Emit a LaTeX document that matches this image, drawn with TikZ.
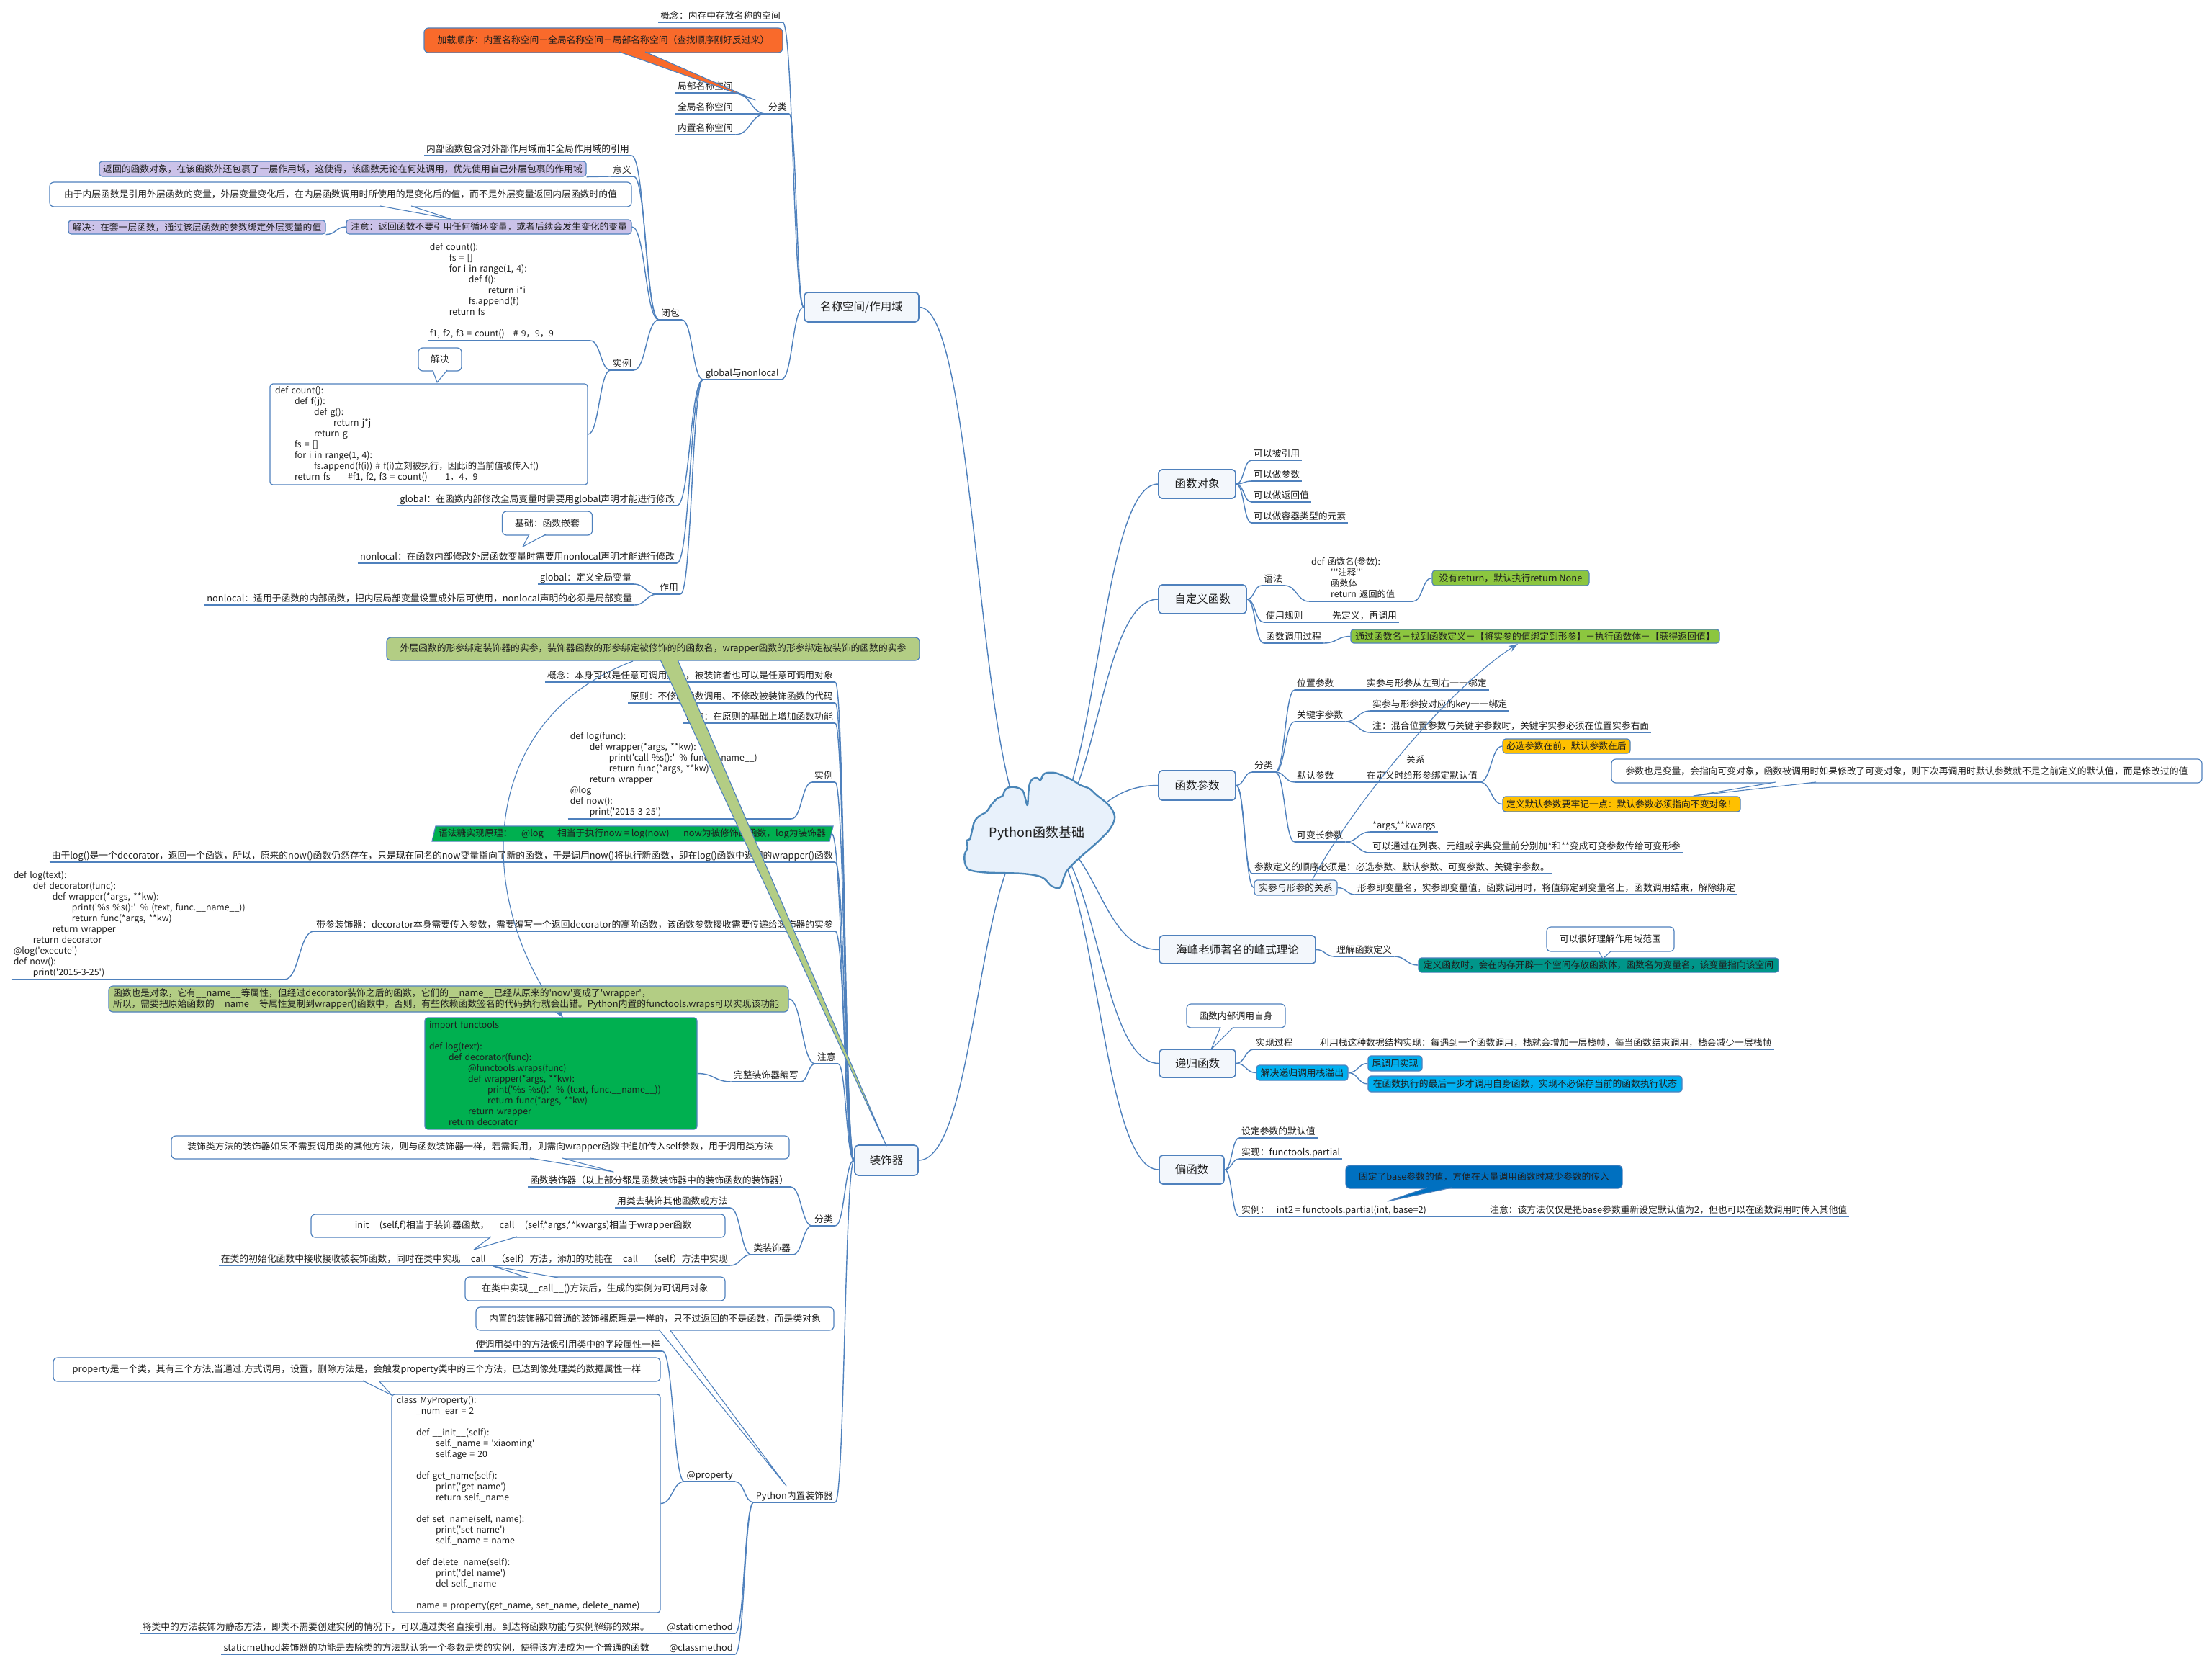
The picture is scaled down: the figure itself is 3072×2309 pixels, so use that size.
\documentclass[tikz,border=0pt]{standalone}
\usepackage{fontspec}
\setmainfont{Noto Sans CJK SC}
\newfontfamily\cjkf{Noto Sans CJK SC}
\usetikzlibrary{calc,arrows.meta}
\definecolor{lnc}{HTML}{4F81BD}
\definecolor{cldl}{HTML}{4A86B8}
\definecolor{txt}{HTML}{1E1E1E}
\definecolor{tpf}{HTML}{F3F7FC}
\definecolor{cldf}{HTML}{E8F1FB}
\definecolor{orng}{HTML}{F96A2B}
\definecolor{lav}{HTML}{CBC2E9}
\definecolor{olv}{HTML}{B3CD84}
\definecolor{grn}{HTML}{00B050}
\definecolor{lgrn}{HTML}{8CC63F}
\definecolor{ylw}{HTML}{FFC000}
\definecolor{tealc}{HTML}{00968A}
\definecolor{cyn}{HTML}{00B0F0}
\definecolor{dblu}{HTML}{0070C0}
\newcommand\fLeaf{\cjkf\fontsize{12.8}{15}\selectfont}
\newcommand\fCode{\cjkf\fontsize{12.3}{15}\selectfont}
\newcommand\fTop{\cjkf\fontsize{15.5}{18}\selectfont}
\newcommand\fCld{\cjkf\fontsize{18}{22}\selectfont}
\newcommand\Ind{\hspace*{27pt}}
\tikzset{
  ln/.style={draw=lnc,line width=1.4pt},
  lf/.style={font=\fLeaf,text=txt,inner xsep=3pt,inner ysep=1pt,text height=10pt,text depth=3pt},
  cd/.style={font=\fCode,text=txt,inner xsep=3pt,inner ysep=1pt,align=left,execute at end node=\strut},
  tp/.style={draw=lnc,line width=1.6pt,fill=tpf,rounded corners=5pt,font=\fTop,text=txt,inner sep=0pt},
  bx/.style={draw=lnc,line width=1.2pt,rounded corners=4pt,font=\fLeaf,text=txt,inner sep=1pt},
  rel/.style={draw=lnc,line width=1.1pt,-{Stealth[length=13pt,width=9pt]}},
}
\newcommand\leafL[4]{\node[lf,anchor=south east] (#1) at (#2,#3) {#4};\draw[ln] (#1.south west)--(#1.south east);}
\newcommand\leafR[4]{\node[lf,anchor=south west] (#1) at (#2,#3) {#4};\draw[ln] (#1.south west)--(#1.south east);}
\newcommand\codeL[5]{\node[cd,anchor=south east,text width=#4] (#1) at (#2,#3) {#5};\draw[ln] (#1.south west)--(#1.south east);}
\newcommand\codeR[5]{\node[cd,anchor=south west,text width=#4] (#1) at (#2,#3) {#5};\draw[ln] (#1.south west)--(#1.south east);}
\newcommand\conn[2]{\draw[ln] let \p1=(#1),\p2=(#2),\n1={(\x1+\x2)/2} in (\p1) .. controls (\n1,\y1) and (\n1,\y2) .. (\p2);}
\newcommand\ctail[4]{\fill[#1] (#2)--(#4)--(#3)--cycle;\draw[draw=lnc,line width=1.1pt,line join=round] (#2)--(#4)--(#3);}
\begin{document}
\begin{tikzpicture}[x=1pt,y=-1pt]
\useasboundingbox (0,0) rectangle (3072,2309);
\fill[white] (0,0) rectangle (3072,2309);

% ---------- topic boxes
\node[tp,minimum width=159pt,minimum height=41pt] (T1) at (1196.5,426.5) {名称空间/作用域};
\node[tp,minimum width=88pt,minimum height=42pt] (T2) at (1231,1611) {装饰器};
\node[tp,minimum width=107pt,minimum height=40pt] (T3) at (1662.5,672) {函数对象};
\node[tp,minimum width=122pt,minimum height=40pt] (T4) at (1670,832) {自定义函数};
\node[tp,minimum width=107pt,minimum height=41pt] (T5) at (1662.5,1090.5) {函数参数};
\node[tp,minimum width=217pt,minimum height=39pt] (T6) at (1718.5,1318.5) {海峰老师著名的峰式理论};
\node[tp,minimum width=106pt,minimum height=39pt] (T7) at (1663,1476.5) {递归函数};
\node[tp,minimum width=90pt,minimum height=40pt] (T8) at (1655,1624) {偏函数};

% ---------- namespace branch
\leafL{n1}{1087}{31}{概念：内存中存放名称的空间}
\leafL{n2}{1096}{158}{分类}
\leafL{n2a}{1021}{129}{局部名称空间}
\leafL{n2b}{1021}{158}{全局名称空间}
\leafL{n2c}{1021}{187}{内置名称空间}
\node[bx,fill=orng,minimum width=498pt,minimum height=34pt,rounded corners=6pt] (Wo) at (838,56) {加载顺序：内置名称空间－全局名称空间－局部名称空间（查找顺序刚好反过来）};
\coordinate (tWo) at (1049,139);
\ctail{orng}{860,72}{896,72}{tWo}
\leafL{n3}{1085}{527}{global与nonlocal}
\leafL{n31}{947}{444}{闭包}
\leafL{n311}{877}{216}{内部函数包含对外部作用域而非全局作用域的引用}
\leafL{n312}{880}{245}{意义}
\node[bx,fill=lav,minimum width=676pt,minimum height=21pt] (L1) at (476,234.5) {返回的函数对象，在该函数外还包裹了一层作用域，这使得，该函数无论在何处调用，优先使用自己外层包裹的作用域};
\node[bx,fill=lav,minimum width=396pt,minimum height=20pt] (L2) at (679,315) {注意：返回函数不要引用任何循环变量，或者后续会发生变化的变量};
\node[bx,fill=lav,minimum width=357pt,minimum height=19pt] (L3) at (273.5,315.5) {解决：在套一层函数，通过该层函数的参数绑定外层变量的值};
\node[bx,fill=white,minimum width=808pt,minimum height=34pt,rounded corners=6pt] (W1) at (473,270) {由于内层函数是引用外层函数的变量，外层变量变化后，在内层函数调用时所使用的是变化后的值，而不是外层变量返回内层函数时的值};
\coordinate (tW1) at (626,304);
\ctail{white}{528,286}{571,286}{tW1}
\leafL{n314}{880}{514}{实例}
\codeL{k1}{820}{473}{220pt}{def count():\\ \Ind fs = []\\ \Ind for i in range(1, 4):\\ \Ind\Ind def f():\\ \Ind\Ind\Ind return i*i\\ \Ind\Ind fs.append(f)\\ \Ind return fs\\ \mbox{}\\ f1, f2, f3 = count()\hspace{1em}\# 9，9，9}
\node[bx,fill=white,text width=427pt,inner xsep=7pt,minimum height=140pt,align=left,font=\fCode] (k2) at (595.5,603) {def count():\\ \Ind def f(j):\\ \Ind\Ind def g():\\ \Ind\Ind\Ind return j*j\\ \Ind\Ind return g\\ \Ind fs = []\\ \Ind for i in range(1, 4):\\ \Ind\Ind fs.append(f(i)) \# f(i)立刻被执行，因此i的当前值被传入f()\\ \Ind return fs\hspace{2em}\#f1, f2, f3 = count()\hspace{2em}1，4，9};
\node[bx,fill=white,minimum width=60pt,minimum height=32pt,rounded corners=6pt] (Wj) at (611,499) {解决};
\coordinate (tWj) at (607,531);
\ctail{white}{601,514}{621,514}{tWj}
\leafL{n32}{940}{702}{global：在函数内部修改全局变量时需要用global声明才能进行修改}
\node[bx,fill=white,minimum width=125pt,minimum height=33pt,rounded corners=6pt] (Wb) at (760,726.5) {基础：函数嵌套};
\coordinate (tWb) at (726,759);
\ctail{white}{735,742}{758,742}{tWb}
\leafL{n33}{940}{782}{nonlocal：在函数内部修改外层函数变量时需要用nonlocal声明才能进行修改}
\leafL{n34}{945}{825}{作用}
\leafL{n341}{880}{811}{global：定义全局变量}
\leafL{n342}{881}{840}{nonlocal：适用于函数的内部函数，把内层局部变量设置成外层可使用，nonlocal声明的必须是局部变量}

% ---------- decorator branch
\node[bx,fill=olv,minimum width=740pt,minimum height=32pt,rounded corners=6pt] (O1) at (907,901) {外层函数的形参绑定装饰器的实参，装饰器函数的形参绑定被修饰的的函数名，wrapper函数的形参绑定被装饰的函数的实参};
\coordinate (o1b) at (879,918);
\coordinate (cb3t) at (782,1413);
\draw[rel] (o1b) .. controls (660,1000) and (660,1250) .. (cb3t);
\leafL{d1}{1160}{947}{概念：本身可以是任意可调用对象，被装饰者也可以是任意可调用对象}
\leafL{d2}{1160}{976}{原则：不修改函数调用、不修改被装饰函数的代码}
\leafL{d3}{1160}{1004}{目的：在原则的基础上增加函数功能}
\leafL{d4}{1160}{1086}{实例}
\codeL{d41}{1099}{1137}{304pt}{def log(func):\\ \Ind def wrapper(*args, **kw):\\ \Ind\Ind print('call \%s():' \% func.\_\_name\_\_)\\ \Ind\Ind return func(*args, **kw)\\ \Ind return wrapper\\ @log\\ def now():\\ \Ind print('2015-3-25')}
\filldraw[draw=lnc,line width=1.2pt,fill=grn] (600,1168)--(605,1147)--(1157,1147)--(1152,1168)--cycle;
\node[font=\fLeaf,text=txt,inner sep=0pt] (g1) at (878,1157.5) {语法糖实现原理：\hspace{1em}@log\hspace{1.5em}相当于执行now = log(now)\hspace{1.5em}now为被修饰的函数，log为装饰器};
\coordinate (g1r) at (1155,1157.5);
\leafL{d6}{1160}{1197}{由于log()是一个decorator，返回一个函数，所以，原来的now()函数仍然存在，只是现在同名的now变量指向了新的函数，于是调用now()将执行新函数，即在log()函数中返回的wrapper()函数}
\leafL{d7}{1160}{1293}{带参装饰器：decorator本身需要传入参数，需要编写一个返回decorator的高阶函数，该函数参数接收需要传递给装饰器的实参}
\codeL{d71}{395}{1360}{373pt}{def log(text):\\ \Ind def decorator(func):\\ \Ind\Ind def wrapper(*args, **kw):\\ \Ind\Ind\Ind print('\%s \%s():' \% (text, func.\_\_name\_\_))\\ \Ind\Ind\Ind return func(*args, **kw)\\ \Ind\Ind return wrapper\\ \Ind return decorator\\ @log('execute')\\ def now():\\ \Ind print('2015-3-25')}
\leafL{d8}{1164}{1477}{注意}
\node[bx,fill=olv,text width=932pt,inner xsep=6pt,minimum height=36pt,align=left,rounded corners=6pt] (O2) at (623,1387) {函数也是对象，它有\_\_name\_\_等属性，但经过decorator装饰之后的函数，它们的\_\_name\_\_已经从原来的'now'变成了'wrapper'，\\所以，需要把原始函数的\_\_name\_\_等属性复制到wrapper()函数中，否则，有些依赖函数签名的代码执行就会出错。Python内置的functools.wraps可以实现该功能};
\leafL{d82}{1112}{1502}{完整装饰器编写}
\node[bx,fill=grn,text width=366pt,inner xsep=6pt,minimum height=155pt,align=left,font=\fCode] (CB3) at (779,1490.5) {import functools\\ \mbox{}\\ def log(text):\\ \Ind def decorator(func):\\ \Ind\Ind @functools.wraps(func)\\ \Ind\Ind def wrapper(*args, **kw):\\ \Ind\Ind\Ind print('\%s \%s():' \% (text, func.\_\_name\_\_))\\ \Ind\Ind\Ind return func(*args, **kw)\\ \Ind\Ind return wrapper\\ \Ind return decorator};
\node[bx,fill=white,minimum width=858pt,minimum height=32pt,rounded corners=6pt] (W2) at (667,1593) {装饰类方法的装饰器如果不需要调用类的其他方法，则与函数装饰器一样，若需调用，则需向wrapper函数中追加传入self参数，用于调用类方法};
\coordinate (tW2) at (852,1627);
\ctail{white}{736,1608}{781,1608}{tW2}
\leafL{d9}{1160}{1702}{分类}
\leafL{d91}{1098}{1648}{函数装饰器（以上部分都是函数装饰器中的装饰函数的装饰器）}
\leafL{d92}{1101}{1742}{类装饰器}
\leafL{d921}{1014}{1677}{用类去装饰其他函数或方法}
\leafL{d922}{1014}{1757}{在类的初始化函数中接收接收被装饰函数，同时在类中实现\_\_call\_\_（self）方法，添加的功能在\_\_call\_\_（self）方法中实现}
\node[bx,fill=white,minimum width=575pt,minimum height=32pt,rounded corners=6pt] (W3) at (719.5,1702) {\_\_init\_\_(self,f)相当于装饰器函数，\_\_call\_\_(self,*args,**kwargs)相当于wrapper函数};
\coordinate (tW3) at (658,1735);
\ctail{white}{682,1717}{718,1717}{tW3}
\node[bx,fill=white,minimum width=361pt,minimum height=33pt,rounded corners=6pt] (W4) at (826.5,1789.5) {在类中实现\_\_call\_\_()方法后，生成的实例为可调用对象};
\coordinate (tW4) at (685,1758);
\ctail{white}{733,1774}{775,1774}{tW4}
\node[bx,fill=white,minimum width=497pt,minimum height=32pt,rounded corners=6pt] (W5) at (909.5,1831) {内置的装饰器和普通的装饰器原理是一样的，只不过返回的不是函数，而是类对象};
\coordinate (tW5) at (1092,2063);
\ctail{white}{915,1846}{930,1846}{tW5}
\leafL{d10}{1160}{2086}{Python内置装饰器}
\leafL{d101}{1021}{2057}{@property}
\leafL{d1011}{920}{1876}{使调用类中的方法像引用类中的字段属性一样}
\node[bx,fill=white,text width=359pt,inner xsep=7pt,minimum height=303pt,align=left,font=\fCode] (CB4) at (730.5,2087.5) {class MyProperty():\\ \Ind \_num\_ear = 2\\ \mbox{}\\ \Ind def \_\_init\_\_(self):\\ \Ind\Ind self.\_name = 'xiaoming'\\ \Ind\Ind self.age = 20\\ \mbox{}\\ \Ind def get\_name(self):\\ \Ind\Ind print('get name')\\ \Ind\Ind return self.\_name\\ \mbox{}\\ \Ind def set\_name(self, name):\\ \Ind\Ind print('set name')\\ \Ind\Ind self.\_name = name\\ \mbox{}\\ \Ind def delete\_name(self):\\ \Ind\Ind print('del name')\\ \Ind\Ind del self.\_name\\ \mbox{}\\ \Ind name = property(get\_name, set\_name, delete\_name)};
\node[bx,fill=white,minimum width=843pt,minimum height=33pt,rounded corners=6pt] (W6) at (495.5,1901.5) {property是一个类，其有三个方法,当通过.方式调用，设置，删除方法是，会触发property类中的三个方法，已达到像处理类的数据属性一样};
\coordinate (tW6) at (544,1937);
\ctail{white}{504,1917}{526,1917}{tW6}
\leafL{d102}{1021}{2268}{@staticmethod}
\leafL{d1021}{905}{2268}{将类中的方法装饰为静态方法，即类不需要创建实例的情况下，可以通过类名直接引用。到达将函数功能与实例解绑的效果。}
\leafL{d103}{1021}{2297}{@classmethod}
\leafL{d1031}{905}{2297}{staticmethod装饰器的功能是去除类的方法默认第一个参数是类的实例，使得该方法成为一个普通的函数}

% ---------- right side
\leafR{r31}{1738}{639}{可以被引用}
\leafR{r32}{1738}{668}{可以做参数}
\leafR{r33}{1738}{697}{可以做返回值}
\leafR{r34}{1738}{726}{可以做容器类型的元素}
\leafR{r41}{1752}{813}{语法}
\codeR{r411}{1818}{835}{138pt}{def 函数名(参数):\\ \Ind '''注释'''\\ \Ind 函数体\\ \Ind return 返回的值}
\node[bx,fill=lgrn,minimum width=218pt,minimum height=21pt] (GB1) at (2098,802.5) {没有return，默认执行return None};
\leafR{r42}{1755}{864}{使用规则}
\leafR{r421}{1847}{864}{先定义，再调用}
\leafR{r43}{1755}{893}{函数调用过程}
\node[bx,fill=lgrn,minimum width=512pt,minimum height=19pt] (GB2) at (2132,883.5) {通过函数名－找到函数定义－【将实参的值绑定到形参】－执行函数体－【获得返回值】};
\leafR{r51}{1739}{1072}{分类}
\leafR{r511}{1798}{958}{位置参数}
\leafR{r5111}{1895}{958}{实参与形参从左到右一一绑定}
\leafR{r512}{1798}{1002}{关键字参数}
\leafR{r5121}{1903}{987}{实参与形参按对应的key一一绑定}
\leafR{r5122}{1903}{1017}{注：混合位置参数与关键字参数时，关键字实参必须在位置实参右面}
\leafR{r513}{1798}{1086}{默认参数}
\leafR{r5131}{1895}{1086}{在定义时给形参绑定默认值}
\node[bx,fill=ylw,minimum width=177pt,minimum height=20pt] (Y1) at (2175.5,1036) {必选参数在前，默认参数在后};
\node[bx,fill=ylw,minimum width=330pt,minimum height=21pt] (Y2) at (2252,1116.5) {定义默认参数要牢记一点：默认参数必须指向不变对象！};
\node[bx,fill=white,minimum width=820pt,minimum height=33pt,rounded corners=6pt] (W7) at (2648,1070.5) {参数也是变量，会指向可变对象，函数被调用时如果修改了可变对象，则下次再调用时默认参数就不是之前定义的默认值，而是修改过的值};
\coordinate (tW7) at (2352,1105);
\ctail{white}{2466,1086}{2522,1086}{tW7}
\leafR{r514}{1798}{1169}{可变长参数}
\leafR{r5141}{1903}{1155}{*args,**kwargs}
\leafR{r5142}{1903}{1184}{可以通过在列表、元组或字典变量前分别加*和**变成可变参数传给可变形参}
\leafR{r52}{1739}{1213}{参数定义的顺序必须是：必选参数、默认参数、可变参数、关键字参数。}
\node[bx,fill=tpf,minimum width=115pt,minimum height=21pt] (r53) at (1799.5,1232.5) {实参与形参的关系};
\leafR{r531}{1882}{1242}{形参即变量名，实参即变量值，函数调用时，将值绑定到变量名上，函数调用结束，解除绑定}
\coordinate (r53t) at (1822,1222);
\coordinate (gb2b) at (2108,894);
\draw[rel] (r53t) .. controls (1890,1100) and (2020,950) .. (gb2b);
\node[font=\fLeaf,text=txt,inner sep=1pt] (gx) at (1966,1055) {关系};

\leafR{r61}{1853}{1328}{理解函数定义}
\node[bx,fill=tealc,minimum width=500pt,minimum height=20pt] (TB) at (2220,1340) {定义函数时，会在内存开辟一个空间存放函数体，函数名为变量名，该变量指向该空间};
\node[bx,fill=white,minimum width=177pt,minimum height=34pt,rounded corners=6pt] (W8) at (2236.5,1304) {可以很好理解作用域范围};
\coordinate (tW8) at (2226,1331);
\ctail{white}{2220,1320}{2238,1320}{tW8}

\node[bx,fill=white,minimum width=137pt,minimum height=33pt,rounded corners=6pt] (W9) at (1716.5,1410.5) {函数内部调用自身};
\coordinate (tW9) at (1682,1457);
\ctail{white}{1695,1426}{1713,1426}{tW9}
\leafR{r71}{1741}{1457}{实现过程}
\leafR{r711}{1830}{1457}{利用栈这种数据结构实现：每遇到一个函数调用，栈就会增加一层栈帧，每当函数结束调用，栈会减少一层栈帧}
\node[bx,fill=cyn,minimum width=127pt,minimum height=21pt] (C1) at (1808.5,1489.5) {解决递归调用栈溢出};
\node[bx,fill=cyn,minimum width=75pt,minimum height=21pt] (C2) at (1937.5,1476.5) {尾调用实现};
\node[bx,fill=cyn,minimum width=436pt,minimum height=22pt] (C3) at (2118,1505) {在函数执行的最后一步才调用自身函数，实现不必保存当前的函数执行状态};

\leafR{r81}{1721}{1580}{设定参数的默认值}
\leafR{r82}{1721}{1609}{实现：functools.partial}
\leafR{r83}{1721}{1689}{实例：\hspace{0.8em}int2 = functools.partial(int, base=2)}
\leafR{r831}{2066}{1689}{注意：该方法仅仅是把base参数重新设定默认值为2，但也可以在函数调用时传入其他值}
\node[bx,fill=dblu,minimum width=384pt,minimum height=32pt,rounded corners=6pt] (W10) at (2061,1634) {固定了base参数的值，方便在大量调用函数时减少参数的传入};
\coordinate (tW10) at (1927,1668);
\ctail{dblu}{1982,1649}{2016,1649}{tW10}

% ---------- connectors
\conn{T1.west}{n1.south east}
\conn{T1.west}{n2.south east}
\conn{T1.west}{n3.south east}
\conn{n2.south west}{n2a.south east}
\conn{n2.south west}{n2b.south east}
\conn{n2.south west}{n2c.south east}
\conn{n3.south west}{n31.south east}
\conn{n3.south west}{n32.south east}
\conn{n3.south west}{n33.south east}
\conn{n3.south west}{n34.south east}
\conn{n31.south west}{n311.south east}
\conn{n31.south west}{n312.south east}
\conn{n31.south west}{L2.east}
\conn{n31.south west}{n314.south east}
\conn{n312.south west}{L1.south east}
\conn{L2.west}{L3.south east}
\conn{n314.south west}{k1.south east}
\conn{n314.south west}{k2.east}
\conn{n34.south west}{n341.south east}
\conn{n34.south west}{n342.south east}

\conn{T2.west}{d1.south east}
\conn{T2.west}{d2.south east}
\conn{T2.west}{d3.south east}
\conn{T2.west}{d4.south east}
\conn{T2.west}{g1r}
\conn{T2.west}{d6.south east}
\conn{T2.west}{d7.south east}
\conn{T2.west}{d8.south east}
\conn{T2.west}{d9.south east}
\conn{T2.west}{d10.south east}
\conn{d4.south west}{d41.south east}
\conn{d7.south west}{d71.south east}
\conn{d8.south west}{O2.east}
\conn{d8.south west}{d82.south east}
\conn{d82.south west}{CB3.east}
\conn{d9.south west}{d91.south east}
\conn{d9.south west}{d92.south east}
\conn{d92.south west}{d921.south east}
\conn{d92.south west}{d922.south east}
\conn{d10.south west}{d101.south east}
\conn{d10.south west}{d102.south east}
\conn{d10.south west}{d103.south east}
\conn{d101.south west}{d1011.south east}
\conn{d101.south west}{CB4.east}
\conn{d102.south west}{d1021.south east}
\conn{d103.south west}{d1031.south east}

\conn{T3.east}{r31.south west}
\conn{T3.east}{r32.south west}
\conn{T3.east}{r33.south west}
\conn{T3.east}{r34.south west}
\conn{T4.east}{r41.south west}
\conn{T4.east}{r42.south west}
\conn{T4.east}{r43.south west}
\conn{r41.south east}{r411.south west}
\conn{r411.south east}{GB1.west}
\conn{r42.south east}{r421.south west}
\conn{r43.south east}{GB2.west}
\conn{T5.east}{r51.south west}
\conn{T5.east}{r52.south west}
\conn{T5.east}{r53.west}
\conn{r51.south east}{r511.south west}
\conn{r51.south east}{r512.south west}
\conn{r51.south east}{r513.south west}
\conn{r51.south east}{r514.south west}
\conn{r511.south east}{r5111.south west}
\conn{r512.south east}{r5121.south west}
\conn{r512.south east}{r5122.south west}
\conn{r513.south east}{r5131.south west}
\conn{r5131.south east}{Y1.west}
\conn{r5131.south east}{Y2.west}
\conn{r514.south east}{r5141.south west}
\conn{r514.south east}{r5142.south west}
\conn{r53.east}{r531.south west}
\conn{T6.east}{r61.south west}
\conn{r61.south east}{TB.west}
\conn{T7.east}{r71.south west}
\conn{T7.east}{C1.west}
\conn{r71.south east}{r711.south west}
\conn{C1.east}{C2.west}
\conn{C1.east}{C3.west}
\conn{T8.east}{r81.south west}
\conn{T8.east}{r82.south west}
\conn{T8.east}{r83.south west}
\conn{r83.south east}{r831.south west}

% ---------- olive callout wedge to decorator
\coordinate (tO1) at (1231,1591);
\ctail{olv}{917,916}{941,916}{tO1}

% ---------- central topic (cloud)
\coordinate (cc) at (1440,1157);
\conn{cc}{T1.east}
\conn{cc}{T2.east}
\conn{cc}{T3.west}
\conn{cc}{T4.west}
\conn{cc}{T5.west}
\conn{cc}{T6.west}
\conn{cc}{T7.west}
\conn{cc}{T8.west}
\filldraw[draw=cldl,line width=2.4pt,fill=cldf,line join=round]
  plot[smooth cycle,tension=0.55] coordinates {
  (1426.7,1118) (1428.3,1100) (1430,1088) (1434,1081.5) (1440,1080) (1445,1083)
  (1448.5,1076) (1454,1073) (1467,1073.5) (1483,1080) (1491,1084) (1500,1090)
  (1513,1095) (1523,1104) (1537,1115) (1545,1125) (1548,1137) (1540,1153)
  (1520,1173) (1497,1193) (1481,1210) (1475,1226) (1471,1233) (1460,1230)
  (1447,1218) (1420,1213) (1370,1211.5) (1347,1208) (1340.5,1200) (1339.5,1187)
  (1343.5,1177) (1342.5,1167) (1347,1165) (1350,1153) (1353.5,1140) (1360,1133)
  (1370,1127) (1377,1117) (1385,1108.5) (1392.5,1105) (1395,1098) (1400,1093.5)
  (1408,1092.7) (1416.5,1095) (1421.5,1100)};
\node[font=\fCld,text=txt,inner sep=0pt] (cld) at (1440,1157) {Python函数基础};
\end{tikzpicture}
\end{document}
